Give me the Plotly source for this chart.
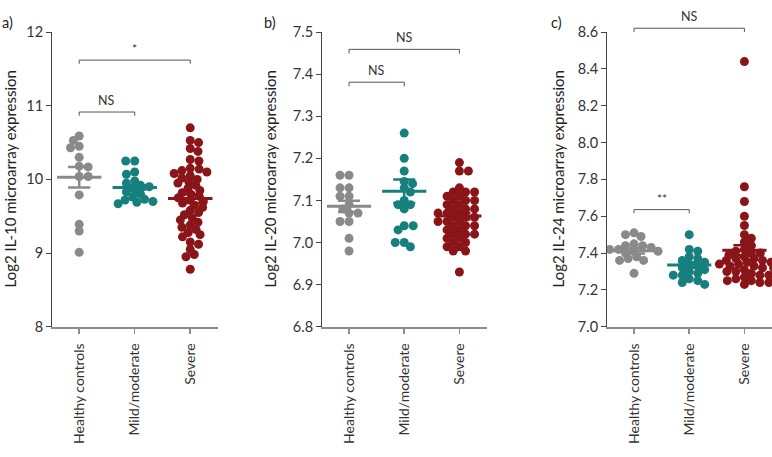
import numpy as np
import plotly.graph_objects as go

groups = ["Healthy controls", "Mild/moderate", "Severe"]
group_colors = ["#8a8a8a", "#16807e", "#8a1518"]

# ---- Panel a: IL-10 ----
il10_healthy = [10.59, 10.53, 10.45, 10.43, 10.30, 10.18, 10.17, 10.04, 10.04, 9.79, 9.39, 9.30, 9.01]
il10_mild = [10.25, 10.25, 10.10, 10.07, 9.98, 9.95, 9.92, 9.90, 9.86, 9.83, 9.80, 9.76, 9.73,
             9.72, 9.70, 9.69, 9.67]
il10_severe = [10.70, 10.53, 10.50, 10.42, 10.38, 10.27, 10.25, 10.15, 10.14, 10.12, 10.10, 10.08,
               10.05, 10.02, 10.00, 9.97, 9.95, 9.92, 9.88, 9.85, 9.82, 9.80, 9.77, 9.75, 9.72,
               9.70, 9.68, 9.65, 9.62, 9.58, 9.55, 9.52, 9.48, 9.45, 9.42, 9.38, 9.35, 9.32,
               9.28, 9.25, 9.22, 9.15, 9.12, 9.05, 8.98, 8.95, 8.78]
il10_mean = [10.03, 9.89, 9.74]
il10_sem = [0.14, 0.03, 0.06]
il10_ticks = [8, 9, 10, 11, 12]
il10_ticktext = ["8", "9", "10", "11", "12"]

# ---- Panel b: IL-20 ----
il20_healthy = [7.16, 7.16, 7.13, 7.13, 7.11, 7.11, 7.09, 7.08, 7.07, 7.07, 7.05, 7.05, 7.01, 6.98]
il20_mild = [7.26, 7.20, 7.17, 7.145, 7.14, 7.13, 7.12, 7.10, 7.09, 7.09, 7.08, 7.04, 7.04,
             7.03, 7.00, 7.00, 6.99]
il20_severe = [7.19, 7.17, 7.17, 7.13, 7.12, 7.12, 7.12, 7.11, 7.11, 7.10, 7.10, 7.10, 7.09,
               7.09, 7.08, 7.08, 7.08, 7.07, 7.07, 7.07, 7.06, 7.06, 7.06, 7.05, 7.05, 7.05,
               7.04, 7.04, 7.04, 7.03, 7.03, 7.02, 7.02, 7.02, 7.01, 7.01, 7.00, 7.00, 6.99,
               6.99, 6.98, 6.98, 6.93]
il20_mean = [7.086, 7.122, 7.063]
il20_sem = [0.0135, 0.028, 0.008]
il20_ticks = [6.8, 6.9, 7.0, 7.1, 7.2, 7.3, 7.4, 7.5]
il20_ticktext = ["6.8", "6.9", "7.0", "7.1", "7.2", "7.3", "7.4", "7.5"]

# ---- Panel c: IL-24 ----
il24_healthy = [7.51, 7.50, 7.49, 7.45, 7.44, 7.44, 7.43, 7.42, 7.42, 7.41, 7.41, 7.40, 7.38,
                7.37, 7.36, 7.36, 7.29]
il24_mild = [7.50, 7.42, 7.41, 7.38, 7.37, 7.36, 7.35, 7.34, 7.33, 7.32, 7.31, 7.30, 7.29,
             7.28, 7.28, 7.26, 7.25, 7.24, 7.23]
il24_severe = [8.44, 7.76, 7.68, 7.60, 7.55, 7.50, 7.48, 7.46, 7.44, 7.42, 7.41, 7.40, 7.40,
               7.39, 7.38, 7.37, 7.37, 7.36, 7.36, 7.35, 7.35, 7.34, 7.34, 7.33, 7.33, 7.32,
               7.32, 7.31, 7.30, 7.30, 7.29, 7.28, 7.28, 7.27, 7.26, 7.25, 7.25, 7.24, 7.24,
               7.23]
il24_mean = [7.413, 7.335, 7.415]
il24_sem = [0.015, 0.015, 0.027]
il24_ticks = [7.0, 7.2, 7.4, 7.6, 7.8, 8.0, 8.2, 8.4, 8.6]
il24_ticktext = ["7.0", "7.2", "7.4", "7.6", "7.8", "8.0", "8.2", "8.4", "8.6"]

# significance brackets: (group from, group to, height, label)
il10_brackets = [(0, 2, 11.62, "*"), (0, 1, 10.915, "NS")]
il20_brackets = [(0, 2, 7.459, "NS"), (0, 1, 7.381, "NS")]
il24_brackets = [(0, 2, 8.621, "NS"), (0, 1, 7.636, "**")]

panels = [
    dict(data=[il10_healthy, il10_mild, il10_severe], mean=il10_mean, sem=il10_sem,
         yr=[8, 12], ticks=il10_ticks, ticktext=il10_ticktext, br=il10_brackets, drop=0.05,
         title="Log2 IL-10 microarray expression", letter="a)",
         xdom=[52 / 772, 218 / 772], title_x=10 / 772, letter_x=0 / 772),
    dict(data=[il20_healthy, il20_mild, il20_severe], mean=il20_mean, sem=il20_sem,
         yr=[6.8, 7.5], ticks=il20_ticks, ticktext=il20_ticktext, br=il20_brackets, drop=0.01,
         title="Log2 IL-20 microarray expression", letter="b)",
         xdom=[322 / 772, 487 / 772], title_x=270 / 772, letter_x=262 / 772),
    dict(data=[il24_healthy, il24_mild, il24_severe], mean=il24_mean, sem=il24_sem,
         yr=[7.0, 8.6], ticks=il24_ticks, ticktext=il24_ticktext, br=il24_brackets, drop=0.02,
         title="Log2 IL-24 microarray expression", letter="c)",
         xdom=[607 / 772, 1.0], title_x=558 / 772, letter_x=549 / 772),
]

W, H = 772, 457
YDOM = [1 - 330 / H, 1 - 24 / H]
XR = [-0.49, 2.5]
FONT = "Lato, 'Source Sans Pro', 'Noto Sans', sans-serif"


def swarm(values, px_per_unit, px_per_cat, hx=9.0, vy=6.0):
    vals = np.asarray(values, float)
    order = np.argsort(-vals, kind="stable")
    placed = []
    offs = np.zeros(len(vals))
    for k, idx in enumerate(order):
        y = vals[idx] * px_per_unit
        near = [(py, px) for py, px in placed if abs(py - y) < vy]
        cands = [0.0]
        for py, px in near:
            dx = hx * np.sqrt(max(0.0, 1 - ((py - y) / vy) ** 2))
            cands += [px + dx, px - dx]

        def ok(x):
            return all(((x - px) / hx) ** 2 + ((y - py) / vy) ** 2 >= 0.999 for py, px in near)

        valid = [c for c in cands if ok(c)]
        sign = 1 if k % 2 == 0 else -1
        best = min(valid, key=lambda c: (round(abs(c), 4), -sign * c))
        placed.append((y, best))
        offs[idx] = best / px_per_cat
    return offs


fig = go.Figure()
annotations = []
shapes = []

for p_i, p in enumerate(panels):
    n = p_i + 1
    xa = "x" if n == 1 else f"x{n}"
    ya = "y" if n == 1 else f"y{n}"
    plot_w = (p["xdom"][1] - p["xdom"][0]) * W
    plot_h = (YDOM[1] - YDOM[0]) * H
    px_per_cat = plot_w / (XR[1] - XR[0])
    px_per_unit = plot_h / (p["yr"][1] - p["yr"][0])

    for g, vals in enumerate(p["data"]):
        offs = swarm(vals, px_per_unit, px_per_cat)
        fig.add_trace(go.Scatter(
            x=g + offs, y=vals, mode="markers", xaxis=xa, yaxis=ya,
            marker=dict(size=9, color=group_colors[g], line=dict(width=0)),
            showlegend=False, hoverinfo="y"))
    for g in range(3):
        m, s = p["mean"][g], p["sem"][g]
        fig.add_trace(go.Scatter(
            x=[g - 0.4, g + 0.4], y=[m, m], mode="lines", xaxis=xa, yaxis=ya,
            line=dict(color=group_colors[g], width=3), showlegend=False, hoverinfo="skip"))
        fig.add_trace(go.Scatter(
            x=[g, g, None, g - 0.2, g + 0.2, None, g - 0.2, g + 0.2],
            y=[m - s, m + s, None, m + s, m + s, None, m - s, m - s],
            mode="lines", xaxis=xa, yaxis=ya,
            line=dict(color=group_colors[g], width=2.5), showlegend=False, hoverinfo="skip"))

    # axes
    fig.layout[f"xaxis{'' if n == 1 else n}"] = dict(
        domain=p["xdom"], range=XR, anchor=ya, tickvals=[0, 1, 2], ticktext=groups,
        tickangle=-90, ticks="outside", ticklen=5, tickwidth=1.5, tickcolor="#8c8c8c",
        showline=True, linecolor="#8c8c8c", linewidth=2, showgrid=False, zeroline=False,
        tickfont=dict(family=FONT, size=14, color="#333333"), ticklabelstandoff=4,
        fixedrange=True)
    fig.layout[f"yaxis{'' if n == 1 else n}"] = dict(
        domain=YDOM, range=p["yr"], anchor=xa, tickvals=p["ticks"], ticktext=p["ticktext"],
        ticks="outside", ticklen=5, tickwidth=1, tickcolor="#444444",
        showline=True, linecolor="#444444", linewidth=1, showgrid=False, zeroline=False,
        tickfont=dict(family=FONT, size=14.5, color="#333333"), fixedrange=True)

    # axis title and panel letter
    annotations.append(dict(
        x=p["title_x"], y=(YDOM[0] + YDOM[1]) / 2, xref="paper", yref="paper",
        text=p["title"], textangle=-90, showarrow=False, xanchor="center", yanchor="middle",
        font=dict(family=FONT, size=15, color="#222222")))
    annotations.append(dict(
        x=p["letter_x"], y=1 - 14 / H, xref="paper", yref="paper", text=p["letter"],
        showarrow=False, xanchor="left", yanchor="middle",
        font=dict(family=FONT, size=14.5, color="#222222")))

    # brackets (positions given in data units, placed via the axis domain)
    y0, y1 = p["yr"]
    for (a, b, h, lab) in p["br"]:
        top = (h - y0) / (y1 - y0)
        bot = (h - p["drop"] - y0) / (y1 - y0)
        path = f"M {a},{bot} L {a},{top} L {b},{top} L {b},{bot}"
        shapes.append(dict(type="path", path=path, xref=xa, yref=f"{ya} domain",
                           line=dict(color="#555555", width=1)))
        annotations.append(dict(
            x=(a + b) / 2, y=top, xref=xa, yref=f"{ya} domain", text=lab, showarrow=False,
            xanchor="center", yanchor="bottom", yshift=2,
            font=dict(family=FONT, size=12.5 if lab == "NS" else 12, color="#333333")))

fig.update_layout(
    width=W, height=H, margin=dict(l=0, r=0, t=0, b=0),
    paper_bgcolor="white", plot_bgcolor="white", showlegend=False,
    annotations=annotations, shapes=shapes,
    font=dict(family=FONT, color="#333333"),
)

fig.write_html("out.html", config={"displayModeBar": False, "staticPlot": True},
               post_script="document.body.style.margin='0';")
